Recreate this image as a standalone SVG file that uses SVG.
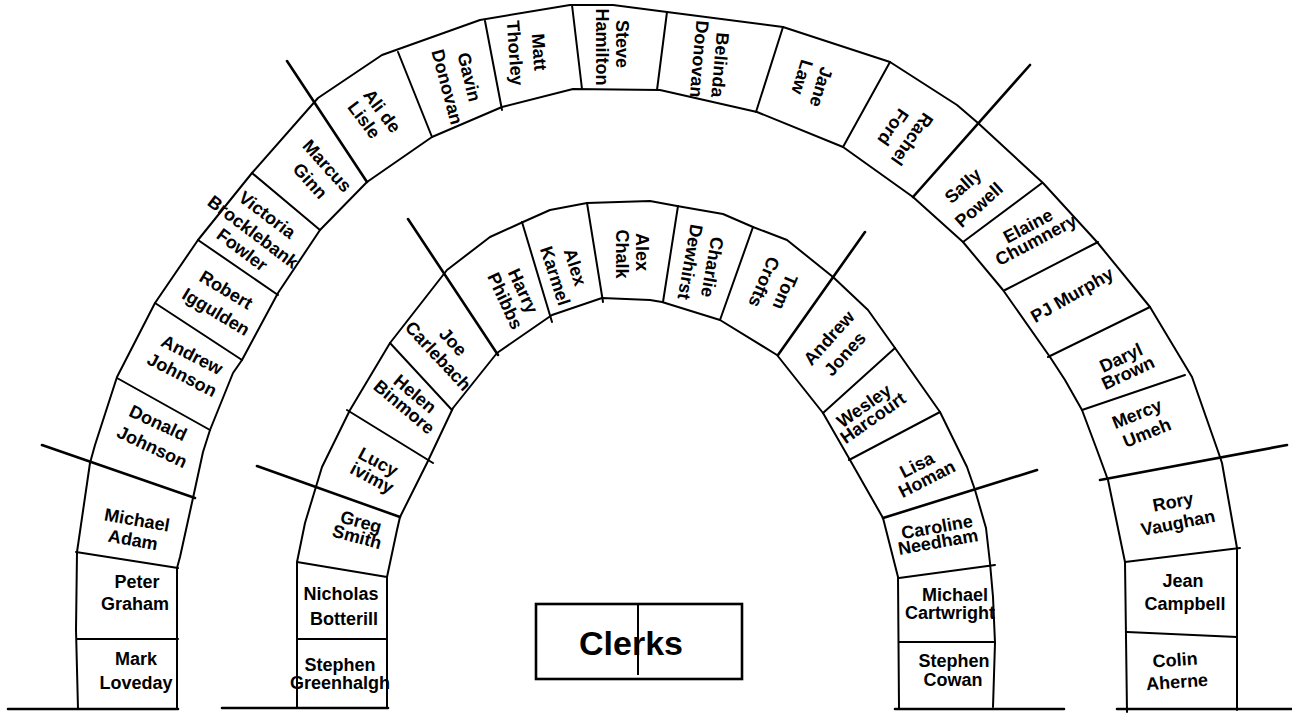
<svg xmlns="http://www.w3.org/2000/svg" width="1292" height="715" viewBox="0 0 1292 715">
<style>
.ln{fill:none;stroke:#000;stroke-width:2;stroke-linejoin:round;stroke-linecap:round}
.lk{stroke-width:2.6}
text{font-family:"Liberation Sans",Arial,sans-serif;font-weight:bold;font-size:18px;fill:#000;text-anchor:middle}
.big{font-size:34px}
</style>
<rect width="1292" height="715" fill="#fff"/>
<g id="connectors">
<path class="ln" d="M78,709 L76,630 L77,552 L90,463 L95,445 L117,377 L155,303 L198,240 L252,173 L318,98 L382,55 L480,20 L570,5 L613,5 L667,12 L783,27 L890,62 L957,105 L978,123 L1043,183 L1097,242 L1150,307 L1192,377 L1220,457 L1222,463 L1237,548 L1237,710"/>
<path class="ln" d="M177,709 L177,568 L180,557 L193,498 L203,452 L210,430 L233,373 L242,360 L278,293 L320,230 L367,182 L432,137 L502,107 L573,89 L660,90 L757,112 L843,147 L913,197 L963,242 L1003,290 L1050,357 L1065,380 L1082,410 L1097,450 L1108,480 L1125,562 L1127,712"/>
<path class="ln" d="M77,639 L178,639 M76,552 L178,568 M117,378 L210,430 M155,303 L242,360 M198,240 L278,295 M252,173 L320,230 M398,52 L432,137 M485,21 L502,110 M572,5 L582,89 M667,12 L657,90 M783,27 L756,112 M890,62 L843,147 M1042,183 L963,242 M1098,242 L1005,290 M1150,307 L1048,357 M1185,375 L1082,410 M1125,562 L1240,548 M1127,632 L1237,637"/>
<path class="ln lk" d="M42,445 L195,498 M287,61 L367,182 M1030,65 L913,197 M1287,445 L1100,480"/>
<path class="ln" d="M297,708 L297,562 L305,523 L315,490 L322,467 L350,410 L390,343 L447,270 L490,237 L523,222 L550,210 L587,203 L650,201 L677,206 L723,214 L753,227 L787,240 L833,277 L868,310 L895,348 L940,412 L967,467 L975,490 L986,528 L990,563 L993,597 L995,643 L993,707"/>
<path class="ln" d="M387,708 L387,577 L397,530 L400,517 L427,463 L453,408 L497,353 L552,315 L602,298 L650,300 L662,302 L720,320 L777,355 L823,413 L850,460 L883,518 L898,577 L899,708"/>
<path class="ln" d="M297,639 L387,639 M297,562 L387,577 M347,410 L433,463 M390,343 L452,410 M522,222 L552,322 M587,203 L603,302 M678,206 L663,302 M753,227 L720,320 M895,348 L823,413 M940,412 L849,460 M899,578 L995,565 M899,642 L995,642"/>
<path class="ln lk" d="M257,466 L400,517 M408,219 L498,355 M865,232 L778,355 M1037,470 L883,518"/>
<path class="ln lk" d="M8,709 L178,709 M222,708 L388,708 M895,709 L1064,709 M1117,709 L1292,709"/>
</g>
<g id="clerks">
<rect x="536" y="604" width="206" height="75" fill="none" stroke="#000" stroke-width="2.6"/>
<line x1="638" y1="604" x2="638" y2="675" stroke="#000" stroke-width="2"/>
<text class="big" x="631" y="655">Clerks</text>
</g>
<g id="mark-loveday"><text x="136" y="665">Mark</text><text x="136" y="689">Loveday</text></g>
<g id="peter-graham"><text x="137" y="588">Peter</text><text x="135" y="610">Graham</text></g>
<g id="michael-adam"><text transform="translate(137 520) rotate(10)" y="6">Michael</text><text transform="translate(133 540) rotate(10)" y="6">Adam</text></g>
<g id="donald-johnson"><text transform="translate(158 423) rotate(25)" y="6">Donald</text><text transform="translate(152 447) rotate(25)" y="6">Johnson</text></g>
<g id="andrew-johnson"><text transform="translate(192 355) rotate(27)" y="6">Andrew</text><text transform="translate(182 375) rotate(27)" y="6">Johnson</text></g>
<g id="robert-iggulden"><text transform="translate(226 290) rotate(31)" y="6">Robert</text><text transform="translate(216 312) rotate(31)" y="6">Iggulden</text></g>
<g id="victoria-brocklebank-fowler"><text transform="translate(267 215) rotate(37)" y="6">Victoria</text><text transform="translate(253 232) rotate(37)" y="6">Brocklebank</text><text transform="translate(242 250) rotate(37)" y="6">Fowler</text></g>
<g id="marcus-ginn"><text transform="translate(327 166) rotate(48)" y="6">Marcus</text><text transform="translate(310 181) rotate(48)" y="6">Ginn</text></g>
<g id="ali-de-lisle"><text transform="translate(382 111) rotate(53)" y="6">Ali de</text><text transform="translate(364 120) rotate(53)" y="6">Lisle</text></g>
<g id="gavin-donovan"><text transform="translate(469 77) rotate(76)" y="6">Gavin</text><text transform="translate(447 87) rotate(75)" y="6">Donovan</text></g>
<g id="matt-thorley"><text transform="translate(539 52) rotate(86)" y="6">Matt</text><text transform="translate(515 53) rotate(86)" y="6">Thorley</text></g>
<g id="steve-hamilton"><text transform="translate(622 44) rotate(90)" y="6">Steve</text><text transform="translate(602 47) rotate(90)" y="6">Hamilton</text></g>
<g id="belinda-donovan"><text transform="translate(720 65) rotate(95)" y="6">Belinda</text><text transform="translate(699 59) rotate(95)" y="6">Donovan</text></g>
<g id="jane-law"><text transform="translate(821 87) rotate(107)" y="6">Jane</text><text transform="translate(802 77) rotate(107)" y="6">Law</text></g>
<g id="rachel-ford"><text transform="translate(912 139) rotate(125)" y="6">Rachel</text><text transform="translate(893 127) rotate(125)" y="6">Ford</text></g>
<g id="sally-powell"><text transform="translate(963 186) rotate(-42)" y="6">Sally</text><text transform="translate(979 205) rotate(-42)" y="6">Powell</text></g>
<g id="elaine-chumnery"><text transform="translate(1028 226) rotate(-28)" y="6">Elaine</text><text transform="translate(1036 240) rotate(-28)" y="6">Chumnery</text></g>
<g id="pj-murphy"><text transform="translate(1072 295) rotate(-30)" y="6">PJ Murphy</text></g>
<g id="daryl-brown"><text transform="translate(1121 358) rotate(-25)" y="6">Daryl</text><text transform="translate(1128 373) rotate(-25)" y="6">Brown</text></g>
<g id="mercy-umeh"><text transform="translate(1137 414) rotate(-22)" y="6">Mercy</text><text transform="translate(1147 433) rotate(-22)" y="6">Umeh</text></g>
<g id="rory-vaughan"><text transform="translate(1173 502) rotate(-11)" y="6">Rory</text><text transform="translate(1178 523) rotate(-11)" y="6">Vaughan</text></g>
<g id="jean-campbell"><text x="1183" y="587">Jean</text><text x="1185" y="610">Campbell</text></g>
<g id="colin-aherne"><text transform="translate(1175 660) rotate(-4)" y="6">Colin</text><text transform="translate(1177 682) rotate(-4)" y="6">Aherne</text></g>
<g id="stephen-greenhalgh"><text x="340" y="671">Stephen</text><text x="340" y="689">Greenhalgh</text></g>
<g id="nicholas-botterill"><text x="341" y="600">Nicholas</text><text x="344" y="625">Botterill</text></g>
<g id="greg-smith"><text transform="translate(361 522) rotate(15)" y="6">Greg</text><text transform="translate(357 537) rotate(15)" y="6">Smith</text></g>
<g id="lucy-ivimy"><text transform="translate(378 462) rotate(28)" y="6">Lucy</text><text transform="translate(372 478) rotate(28)" y="6">ivimy</text></g>
<g id="helen-binmore"><text transform="translate(415 394) rotate(40)" y="6">Helen</text><text transform="translate(404 407) rotate(40)" y="6">Binmore</text></g>
<g id="joe-carlebach"><text transform="translate(453 342) rotate(47)" y="6">Joe</text><text transform="translate(438 356) rotate(47)" y="6">Carlebach</text></g>
<g id="harry-phibbs"><text transform="translate(523 291) rotate(65)" y="6">Harry</text><text transform="translate(505 301) rotate(65)" y="6">Phibbs</text></g>
<g id="alex-karmel"><text transform="translate(575 267) rotate(72)" y="6">Alex</text><text transform="translate(555 276) rotate(72)" y="6">Karmel</text></g>
<g id="alex-chalk"><text transform="translate(642 252) rotate(90)" y="6">Alex</text><text transform="translate(622 254) rotate(90)" y="6">Chalk</text></g>
<g id="charlie-dewhirst"><text transform="translate(712 267) rotate(100)" y="6">Charlie</text><text transform="translate(690 262) rotate(100)" y="6">Dewhirst</text></g>
<g id="tom-crofts"><text transform="translate(785 292) rotate(113)" y="6">Tom</text><text transform="translate(764 282) rotate(113)" y="6">Crofts</text></g>
<g id="andrew-jones"><text transform="translate(829 338) rotate(-48)" y="6">Andrew</text><text transform="translate(845 354) rotate(-48)" y="6">Jones</text></g>
<g id="wesley-harcourt"><text transform="translate(864 406) rotate(-35)" y="6">Wesley</text><text transform="translate(873 418) rotate(-35)" y="6">Harcourt</text></g>
<g id="lisa-homan"><text transform="translate(917 465) rotate(-27)" y="6">Lisa</text><text transform="translate(927 479) rotate(-27)" y="6">Homan</text></g>
<g id="caroline-needham"><text transform="translate(937 527) rotate(-10)" y="6">Caroline</text><text transform="translate(938 542) rotate(-10)" y="6">Needham</text></g>
<g id="michael-cartwright"><text x="955" y="601">Michael</text><text x="950" y="619">Cartwright</text></g>
<g id="stephen-cowan"><text x="954" y="667">Stephen</text><text x="953" y="686">Cowan</text></g>
</svg>
